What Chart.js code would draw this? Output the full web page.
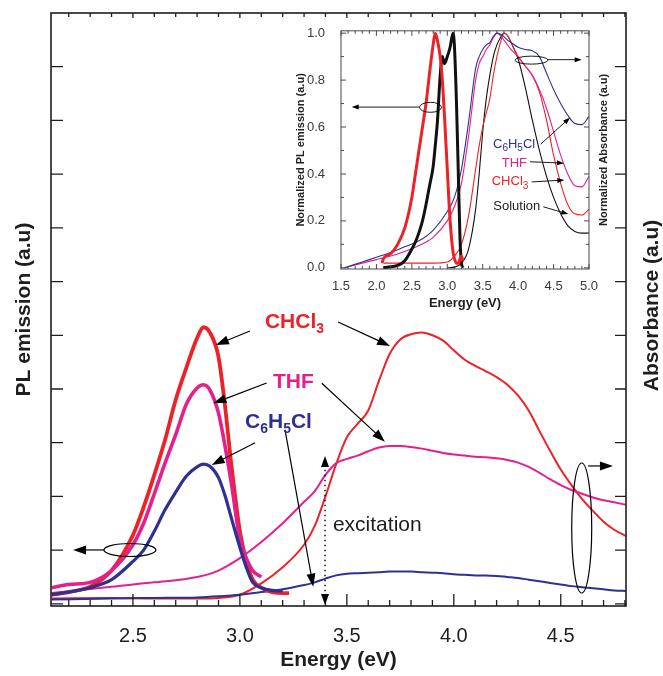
<!DOCTYPE html>
<html><head><meta charset="utf-8">
<script src="https://cdn.jsdelivr.net/npm/chart.js@4.4.0/dist/chart.umd.min.js"></script>
<style>
html,body{margin:0;padding:0;background:#fff;}
#wrap{position:relative;width:663px;height:676px;overflow:hidden;}
#main{position:absolute;left:0;top:0;}
#inset{position:absolute;left:280px;top:15px;}
</style></head><body>
<div id="wrap">
<canvas id="main" width="663" height="676"></canvas>
<canvas id="inset" width="335" height="300"></canvas>
</div>
<script>
// ---------------- DATA (main chart) ----------------
const plEnergy = [2.12,2.2,2.3,2.4,2.5,2.55,2.6,2.65,2.7,2.75,2.8,2.83,2.86,2.9,2.93,2.96,3.0,3.03,3.06,3.1,3.15,3.2,3.23];
const plCHCl3  = [0.17,0.22,0.32,0.62,1.28,1.8,2.4,3.05,3.8,4.4,4.95,5.15,5.05,4.6,3.7,2.6,1.35,0.8,0.45,0.3,0.22,0.2,0.2];
const plTHF    = [0.3,0.36,0.4,0.62,1.1,1.5,2.05,2.62,3.15,3.72,4.02,4.08,3.98,3.55,2.95,2.25,1.2,0.85,0.62,0.5,null,null,null];
const plC6H5Cl = [0.17,0.22,0.3,0.45,0.79,1.0,1.35,1.75,2.08,2.38,2.55,2.6,2.56,2.35,2.02,1.6,1.05,0.68,0.4,0.3,0.25,0.24,null];

const absEnergy = [2.12,2.4,2.6,2.8,2.9,3.0,3.1,3.2,3.3,3.35,3.4,3.45,3.5,3.55,3.6,3.65,3.7,3.75,3.8,3.85,3.9,3.95,4.0,4.05,4.1,4.15,4.2,4.25,4.3,4.35,4.4,4.45,4.5,4.55,4.6,4.65,4.7,4.75,4.81];
const absCHCl3  = [0.1,0.11,0.1,0.1,0.11,0.17,0.38,0.68,1.1,1.45,2.0,2.6,3.1,3.35,3.6,4.15,4.65,4.92,5.02,5.05,5.0,4.9,4.72,4.55,4.43,4.33,4.22,4.08,3.88,3.6,3.22,2.85,2.5,2.21,1.95,1.73,1.53,1.38,1.25];
const absTHF    = [0.2,0.32,0.4,0.5,0.62,0.85,1.15,1.5,1.9,2.1,2.4,2.62,2.7,2.76,2.84,2.91,2.94,2.94,2.92,2.89,2.85,2.81,2.78,2.76,2.74,2.73,2.71,2.68,2.63,2.55,2.44,2.32,2.21,2.12,2.05,1.98,1.93,1.89,1.84];
const absC6H5Cl = [0.08,0.1,0.11,0.12,0.14,0.17,0.22,0.27,0.35,0.4,0.47,0.53,0.56,0.57,0.58,0.59,0.6,0.6,0.6,0.59,0.58,0.57,0.55,0.54,0.53,0.53,0.52,0.5,0.48,0.45,0.42,0.39,0.36,0.33,0.31,0.29,0.27,0.25,0.24];

const mainXTickLabels = [2.5,3.0,3.5,4.0,4.5];

// ---------------- DATA (inset) ----------------
const insetAbsEnergy  = [1.55,1.8,2.0,2.1,2.2,2.4,2.6,2.8,3.0,3.1,3.2,3.3,3.4,3.45,3.5,3.55,3.6,3.65,3.7,3.75,3.8,3.85,3.9,4.0,4.1,4.2,4.3,4.4,4.5,4.6,4.7,4.8,4.9,5.0];
const insetAbsC6H5Cl  = [0,0.025,0.045,0.055,0.065,0.09,0.115,0.16,0.24,0.3,0.42,0.62,0.85,0.9,0.93,0.95,0.96,0.985,1.0,0.995,0.985,0.97,0.96,0.94,0.93,0.925,0.9,0.83,0.76,0.7,0.65,0.615,0.61,0.645];
const insetAbsTHF     = [0,0.02,0.035,0.043,0.05,0.07,0.095,0.13,0.2,0.26,0.36,0.56,0.8,0.87,0.9,0.93,0.95,0.98,1.0,0.99,0.97,0.95,0.93,0.9,0.86,0.82,0.76,0.68,0.58,0.48,0.4,0.35,0.345,0.39];
const insetAbsCHCl3   = [null,null,null,0.02,0.02,0.02,0.02,0.02,0.025,0.05,0.1,0.22,0.42,0.52,0.6,0.66,0.72,0.82,0.9,0.96,1.0,0.99,0.96,0.9,0.86,0.82,0.75,0.63,0.48,0.36,0.27,0.23,0.225,0.25];
const insetAbsSolution= [null,null,null,null,null,null,null,null,0,0.003,0.02,0.08,0.25,0.4,0.58,0.72,0.82,0.9,0.95,0.98,1.0,0.99,0.96,0.89,0.77,0.63,0.5,0.39,0.3,0.23,0.18,0.155,0.148,0.148];

const insetPlEnergy   = [2.08,2.1,2.2,2.3,2.4,2.5,2.55,2.6,2.65,2.7,2.75,2.8,2.83,2.86,2.9,2.93,2.96,3.0,3.04,3.08,3.1,3.13,3.16,3.18,3.2,3.22];
const insetPlFilm     = [0.02,0.04,0.06,0.1,0.17,0.3,0.4,0.5,0.6,0.7,0.83,0.95,1.0,0.97,0.9,0.8,0.65,0.42,0.2,0.07,0.04,0.02,0.02,0.04,0.05,0.03];
const insetPlSolution = [null,0.0,0.005,0.01,0.03,0.08,0.11,0.15,0.2,0.27,0.35,0.43,0.52,0.62,0.82,0.9,0.87,0.9,0.94,1.0,0.95,0.7,0.35,0.12,0.02,0.0];

const insetXTickLabels = [1.5,2.0,2.5,3.0,3.5,4.0,4.5,5.0];
const insetYTickLabels = [0.0,0.2,0.4,0.6,0.8,1.0];

// ---------------- STYLE ----------------
const FONT = "'Liberation Sans', Arial, Helvetica, sans-serif";
const RED = '#ec2227', MAG = '#e51f8c', BLUE = '#2e3192', BLK = '#111111';

function xy(xs, ys){ return xs.map((x,i)=>({x:x, y:(ys[i]===null||ys[i]===undefined)?null:ys[i]})); }
function tenths(a,b,skipEvery){ const r=[]; for(let k=a;k<=b;k++){ if(!skipEvery || k%skipEvery) r.push(k/10);} return r; }

// frame + inward ticks plugin
const framePlugin = {
  id:'frame',
  afterDatasetsDraw(chart, args, o){
    const {ctx, chartArea:a, scales} = chart; const x = scales.x, y = scales.y;
    ctx.save();
    ctx.strokeStyle = o.color; ctx.lineWidth = o.width;
    ctx.strokeRect(a.left, a.top, a.right-a.left, a.bottom-a.top);
    ctx.lineWidth = o.tickWidth;
    ctx.beginPath();
    o.xTicks.forEach(t=>{ const p = x.getPixelForValue(t.v);
      if (t.b){ ctx.moveTo(p,a.bottom); ctx.lineTo(p,a.bottom-t.b);} 
      if (t.t){ ctx.moveTo(p,a.top); ctx.lineTo(p,a.top+t.t);} });
    o.yTicks.forEach(t=>{ const p = y.getPixelForValue(t.v);
      if (t.l){ ctx.moveTo(a.left,p); ctx.lineTo(a.left+t.l,p);} 
      if (t.r){ ctx.moveTo(a.right,p); ctx.lineTo(a.right-t.r,p);} });
    ctx.stroke();
    ctx.restore();
  }
};

function drawParts(ctx, t, x, y){
  const w = t.bold ? 'bold ' : '';
  let cx = x; const base = y + 0.36*t.size;
  ctx.fillStyle = t.color; ctx.textBaseline = 'alphabetic'; ctx.textAlign = 'left';
  t.parts.forEach(([s, sub])=>{
    const sz = sub ? Math.round(t.size*(t.subScale||0.66)) : t.size;
    ctx.font = w + sz + 'px ' + FONT;
    ctx.fillText(s, cx, sub ? base + t.size*0.28 : base);
    cx += ctx.measureText(s).width;
  });
}
function drawArrow(ctx, x1,y1,x2,y2,a){
  const ang = Math.atan2(y2-y1, x2-x1); const hl=a.hl, hw=a.hw;
  ctx.strokeStyle='#000'; ctx.fillStyle='#000'; ctx.lineWidth=a.lw;
  ctx.setLineDash(a.dash||[]);
  const sx = a.both ? x1+Math.cos(ang)*hl*0.8 : x1, sy = a.both ? y1+Math.sin(ang)*hl*0.8 : y1;
  const ex = x2-Math.cos(ang)*hl*0.8, ey = y2-Math.sin(ang)*hl*0.8;
  ctx.beginPath(); ctx.moveTo(sx,sy); ctx.lineTo(ex,ey); ctx.stroke();
  ctx.setLineDash([]);
  const head=(hx,hy,an)=>{ const bx=hx-Math.cos(an)*hl, by=hy-Math.sin(an)*hl;
    ctx.beginPath(); ctx.moveTo(hx,hy);
    ctx.lineTo(bx+Math.sin(an)*hw, by-Math.cos(an)*hw);
    ctx.lineTo(bx-Math.sin(an)*hw, by+Math.cos(an)*hw);
    ctx.closePath(); ctx.fill(); };
  head(x2,y2,ang); if (a.both) head(x1,y1,ang+Math.PI);
}
const annotPlugin = {
  id:'annot',
  afterDraw(chart, args, o){
    const {ctx, chartArea:ca, scales} = chart; const x=scales.x, y=scales.y;
    const px=E=>x.getPixelForValue(E), py=v=>y.getPixelForValue(v);
    ctx.save();
    (o.ellipses||[]).forEach(e=>{ ctx.beginPath(); ctx.ellipse(px(e.at[0]),py(e.at[1]),e.rx,e.ry,0,0,Math.PI*2);
      ctx.lineWidth=e.lw; ctx.strokeStyle='#000'; ctx.stroke(); });
    (o.arrows||[]).forEach(a=>drawArrow(ctx, px(a.from[0]),py(a.from[1]),px(a.to[0]),py(a.to[1]),a));
    (o.texts||[]).forEach(t=>drawParts(ctx,t,px(t.at[0]),py(t.at[1])));
    if (o.rightTitle){ const r=o.rightTitle;
      ctx.save(); ctx.translate(ca.right + r.dx, (ca.top+ca.bottom)/2 + (r.dy||0)); ctx.rotate(-Math.PI/2);
      ctx.font = 'bold ' + r.size + 'px ' + FONT; ctx.fillStyle = r.color; ctx.textAlign='center'; ctx.textBaseline='middle';
      ctx.fillText(r.text, 0, 0); ctx.restore(); }
    ctx.restore();
  }
};

// ---------------- MAIN CHART ----------------
const mainXTicks = mainXTickLabels.map(v=>({v, b:12, t:5})).concat(tenths(22,48,5).map(v=>({v, b:6, t:4})));
const mainYTicks = [0,1,2,3,4,5,6,7,8,9,10].map(v=>({v, l:12, r:11}));

new Chart(document.getElementById('main'), {
  type:'line',
  data:{ datasets:[
    {data:xy(plEnergy,plC6H5Cl), borderColor:BLUE, borderWidth:3.2},
    {data:xy(plEnergy,plTHF), borderColor:MAG, borderWidth:3.6},
    {data:xy(plEnergy,plCHCl3), borderColor:RED, borderWidth:3.8},
    {data:xy(absEnergy,absC6H5Cl), borderColor:BLUE, borderWidth:2},
    {data:xy(absEnergy,absTHF), borderColor:MAG, borderWidth:2},
    {data:xy(absEnergy,absCHCl3), borderColor:RED, borderWidth:2},
  ].map(d=>Object.assign(d,{pointRadius:0, fill:false, cubicInterpolationMode:'monotone', spanGaps:false}))},
  options:{
    responsive:false, animation:false, devicePixelRatio:1,
    layout:{padding:{top:13,right:37,left:0,bottom:0}},
    plugins:{legend:{display:false}, tooltip:{enabled:false},
      frame:{color:'#1e1e1e', width:1.6, tickWidth:1.3, xTicks:mainXTicks, yTicks:mainYTicks},
      annot:{
        rightTitle:{text:'Absorbance (a.u)', size:21, color:'#1e1e1e', dx:26, dy:-4},
        ellipses:[
          {at:[2.486,1.003], rx:26, ry:6.5, lw:1.2},
          {at:[4.598,1.412], rx:10, ry:65, lw:1.2}
        ],
        arrows:[
          {from:[2.365,1.003], to:[2.220,1.003], hl:13, hw:4.5, lw:1.2},
          {from:[4.628,2.567], to:[4.744,2.567], hl:13, hw:4.5, lw:1.2},
          {from:[3.047,5.08], to:[2.888,4.82], hl:13, hw:4.5, lw:1.2},
          {from:[3.459,5.248], to:[3.702,4.80], hl:13, hw:4.5, lw:1.2},
          {from:[3.125,4.112], to:[2.876,3.734], hl:13, hw:4.5, lw:1.2},
          {from:[3.383,4.106], to:[3.678,3.019], hl:13, hw:4.5, lw:1.2},
          {from:[3.071,3.0], to:[2.868,2.585], hl:13, hw:4.5, lw:1.2},
          {from:[3.211,3.237], to:[3.343,0.319], hl:13, hw:4.5, lw:1.2},
          {from:[3.398,2.753], to:[3.398,-0.02], hl:11, hw:4, lw:1.4, both:true, dash:[1.5,3.5]}
        ],
        texts:[
          {parts:[['CHCl',0],['3',1]], at:[3.117,5.285], size:21, bold:true, color:RED},
          {parts:[['THF',0]], at:[3.155,4.168], size:21, bold:true, color:MAG},
          {parts:[['C',0],['6',1],['H',0],['5',1],['Cl',0]], at:[3.024,3.423], size:21, bold:true, color:BLUE},
          {parts:[['excitation',0]], at:[3.435,1.505], size:21, bold:false, color:'#1e1e1e'}
        ]
      }
    },
    scales:{
      x:{type:'linear', min:2.117, max:4.805, afterFit:s=>{s.height=70;},
         grid:{display:false}, border:{display:false},
         ticks:{stepSize:0.5, includeBounds:false, autoSkip:false, maxRotation:0, padding:10,
                callback:v=>mainXTickLabels.includes(Math.round(v*10)/10)?v.toFixed(1):'',
                font:{family:FONT,size:20}, color:'#1e1e1e'},
         title:{display:true, text:'Energy (eV)', font:{family:FONT,size:21,weight:'bold'}, color:'#1e1e1e', padding:{top:0,bottom:3}}},
      y:{type:'linear', min:-0.04, max:11, afterFit:s=>{s.width=51;},
         grid:{display:false}, border:{display:false}, ticks:{display:false},
         title:{display:true, text:'PL emission (a.u)', font:{family:FONT,size:21,weight:'bold'}, color:'#1e1e1e', padding:{top:12,bottom:0}}}
    }
  },
  plugins:[framePlugin, annotPlugin]
});

// ---------------- INSET CHART ----------------
const insetXTicks = insetXTickLabels.map(v=>({v, b:5, t:5})).concat(tenths(16,49,5).map(v=>({v, b:3, t:3})));
const insetYTicks = insetYTickLabels.map(v=>({v, l:5, r:5})).concat([0.1,0.3,0.5,0.7,0.9].map(v=>({v, l:3, r:3})));

new Chart(document.getElementById('inset'), {
  type:'line',
  data:{ datasets:[
    {data:xy(insetPlEnergy,insetPlFilm), borderColor:RED, borderWidth:3},
    {data:xy(insetPlEnergy,insetPlSolution), borderColor:BLK, borderWidth:3},
    {data:xy(insetAbsEnergy,insetAbsC6H5Cl), borderColor:BLUE, borderWidth:1.1},
    {data:xy(insetAbsEnergy,insetAbsTHF), borderColor:MAG, borderWidth:1.1},
    {data:xy(insetAbsEnergy,insetAbsCHCl3), borderColor:RED, borderWidth:1.1},
    {data:xy(insetAbsEnergy,insetAbsSolution), borderColor:BLK, borderWidth:1.1},
  ].map(d=>Object.assign(d,{pointRadius:0, fill:false, cubicInterpolationMode:'monotone', spanGaps:false}))},
  options:{
    responsive:false, animation:false, devicePixelRatio:1,
    layout:{padding:{top:14,right:26,left:0,bottom:0}},
    plugins:{legend:{display:false}, tooltip:{enabled:false},
      frame:{color:'#4a4a4a', width:1, tickWidth:1, xTicks:insetXTicks, yTicks:insetYTicks},
      annot:{
        rightTitle:{text:'Normalized Absorbance (a.u)', size:11, color:'#222', dx:15, dy:0},
        ellipses:[
          {at:[2.763,0.684], rx:11, ry:5, lw:0.9},
          {at:[4.188,0.885], rx:16.5, ry:4, lw:0.9}
        ],
        arrows:[
          {from:[2.608,0.685], to:[1.651,0.685], hl:7, hw:2.5, lw:0.9},
          {from:[4.421,0.887], to:[4.897,0.887], hl:7, hw:2.5, lw:0.9},
          {from:[4.318,0.527], to:[4.732,0.640], hl:7, hw:2.5, lw:0.9},
          {from:[4.167,0.452], to:[4.647,0.446], hl:7, hw:2.5, lw:0.9},
          {from:[4.191,0.366], to:[4.652,0.374], hl:7, hw:2.5, lw:0.9},
          {from:[4.355,0.260], to:[4.708,0.229], hl:7, hw:2.5, lw:0.9}
        ],
        texts:[
          {parts:[['C',0],['6',1],['H',0],['5',1],['Cl',0]], at:[3.645,0.532], size:13, subScale:0.75, bold:false, color:BLUE},
          {parts:[['THF',0]], at:[3.768,0.448], size:13, bold:false, color:MAG},
          {parts:[['CHCl',0],['3',1]], at:[3.627,0.371], size:13, subScale:0.75, bold:false, color:RED},
          {parts:[['Solution',0]], at:[3.649,0.265], size:13, bold:false, color:'#222'}
        ]
      }
    },
    scales:{
      x:{type:'linear', min:1.5, max:5.0, afterFit:s=>{s.height=46;},
         grid:{display:false}, border:{display:false},
         ticks:{stepSize:0.5, autoSkip:false, maxRotation:0, padding:2, callback:v=>v.toFixed(1),
                font:{family:FONT,size:13}, color:'#3a3a3a'},
         title:{display:true, text:'Energy (eV)', font:{family:FONT,size:13,weight:'bold'}, color:'#222', padding:{top:0,bottom:4}}},
      y:{type:'linear', min:-0.005, max:1.01, afterFit:s=>{s.width=61;},
         grid:{display:false}, border:{display:false},
         ticks:{stepSize:0.2, includeBounds:false, autoSkip:false, padding:8, callback:v=>v.toFixed(1),
                font:{family:FONT,size:13}, color:'#3a3a3a'},
         title:{display:true, text:'Normalized PL emission (a.u)', font:{family:FONT,size:11,weight:'bold'}, color:'#222', padding:{top:14,bottom:0}}}
    }
  },
  plugins:[framePlugin, annotPlugin]
});
</script>
</body></html>
